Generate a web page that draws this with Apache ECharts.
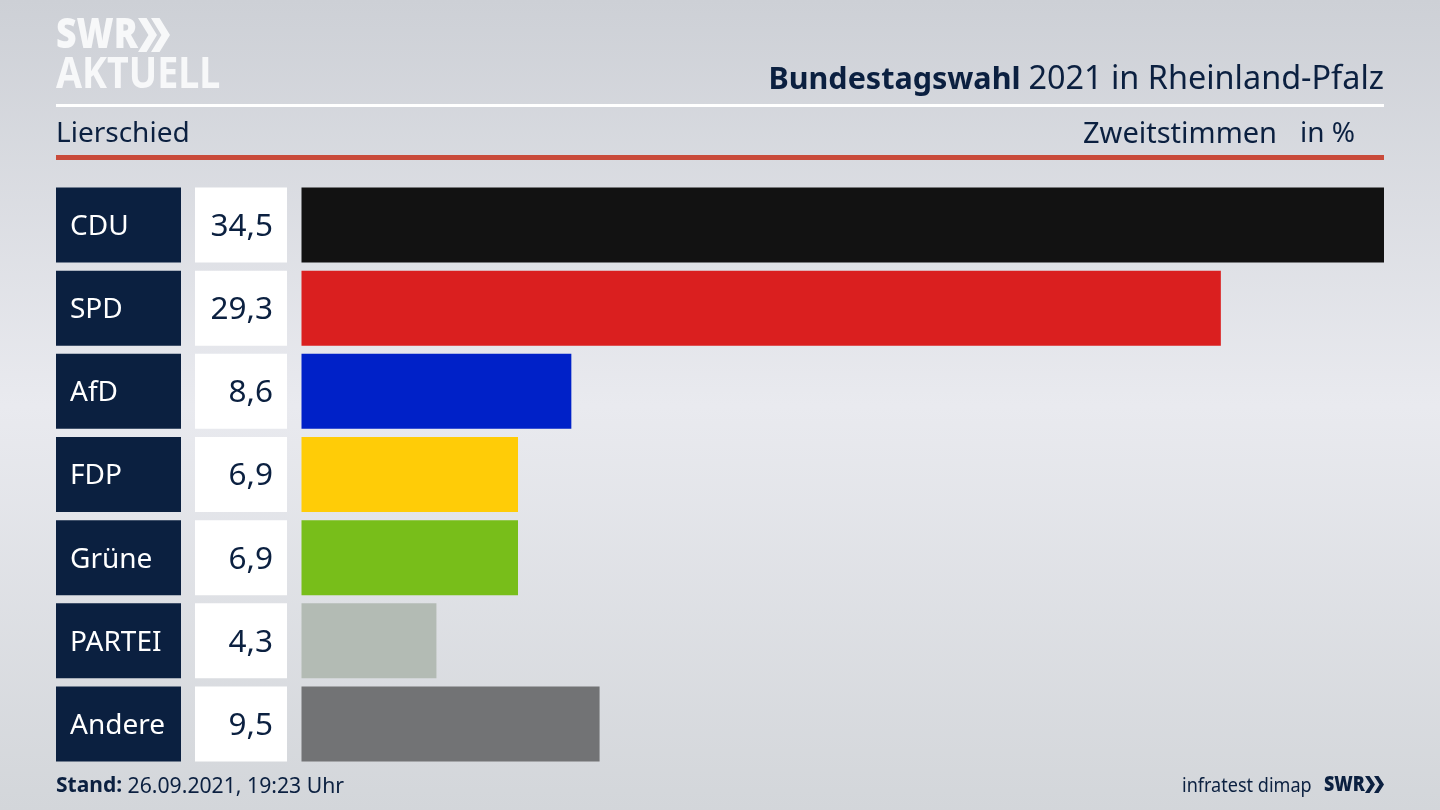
<!DOCTYPE html>
<html lang="de">
<head>
<meta charset="utf-8">
<title>Bundestagswahl 2021 in Rheinland-Pfalz</title>
<style>
  html, body { margin: 0; padding: 0; background: #dcdee3; }
  #chart { width: 1440px; height: 810px; }
</style>
<script src="https://cdn.jsdelivr.net/npm/echarts@6/dist/echarts.min.js"></script>
</head>
<body>
<div id="chart"></div>
<script>
const parties = ['CDU', 'SPD', 'AfD', 'FDP', 'Grüne', 'PARTEI', 'Andere'];
const shares = [34.5, 29.3, 8.6, 6.9, 6.9, 4.3, 9.5];
const partyColors = ['#121212', '#da1f1f', '#0021c8', '#ffcc07', '#78be1a', '#b3bbb4', '#727375'];

const navy = '#0b2040';
const logoWhite = '#f7f8f9';
const font = '"Noto Sans", sans-serif';
const fmt = v => v.toFixed(1).replace('.', ',');

const chevron = (x, y, w, h, fill) => ({
  type: 'polygon',
  shape: { points: [[x, y], [x + w * 0.45, y], [x + w, y + h / 2], [x + w * 0.45, y + h], [x, y + h], [x + w * 0.55, y + h / 2]] },
  style: { fill }
});

const chart = echarts.init(document.getElementById('chart'), null, { renderer: 'canvas' });

chart.setOption({
  animation: false,
  backgroundColor: {
    type: 'linear', x: 0, y: 0, x2: 0, y2: 1,
    colorStops: [
      { offset: 0, color: '#cdd0d6' },
      { offset: 0.5, color: '#e9eaef' },
      { offset: 1, color: '#d3d6da' }
    ]
  },
  grid: { left: 301.5, width: 1082.5, top: 183.5, height: 582 },
  xAxis: { type: 'value', min: 0, max: 34.5, show: false },
  yAxis: {
    type: 'category',
    inverse: true,
    data: parties,
    axisLine: { show: false },
    axisTick: { show: false },
    splitLine: { show: false },
    axisLabel: {
      margin: 14.5,
      fontFamily: font,
      formatter: (name, i) => `{party|${name}}{gap|}{share|${fmt(shares[i])}}`,
      rich: {
        party: {
          width: 111, height: 71, padding: [4, 0, 0, 14], align: 'left',
          backgroundColor: navy, color: '#ffffff', fontSize: 28, fontFamily: font
        },
        gap: { width: 14, height: 75 },
        share: {
          width: 78, height: 71, padding: [4, 14, 0, 0], align: 'right',
          backgroundColor: '#ffffff', color: navy, fontSize: 31.5, fontFamily: font
        }
      }
    }
  },
  series: [{
    type: 'bar',
    data: shares.map((v, i) => ({ value: v, itemStyle: { color: partyColors[i] } })),
    barWidth: 75,
    silent: true
  }],
  graphic: [
    { type: 'text', x: 56, y: 15, scaleX: 0.85, style: { text: 'SWR', fontFamily: font, fontWeight: 900, fontSize: 42, fill: logoWhite } },
    chevron(138, 18, 19, 34, logoWhite),
    chevron(151, 18, 19, 34, logoWhite),
    { type: 'text', x: 56, y: 54, scaleX: 0.875, style: { text: 'AKTUELL', fontFamily: font, fontWeight: 700, fontSize: 43, fill: logoWhite } },

    { type: 'text', right: 56, top: 64, style: {
      text: '{b|Bundestagswahl }{r|2021 in Rheinland-Pfalz}',
      rich: {
        b: { fontFamily: font, fontWeight: 700, fontSize: 30.5, fill: navy },
        r: { fontFamily: font, fontSize: 32.4, fill: navy }
      }
    } },
    { type: 'rect', shape: { x: 56, y: 104, width: 1328, height: 3 }, style: { fill: '#ffffff' } },

    { type: 'text', left: 56, top: 120, style: { text: 'Lierschied', fontFamily: font, fontSize: 28, fill: navy } },
    { type: 'text', left: 1083, top: 120, style: { text: 'Zweitstimmen', fontFamily: font, fontSize: 29, fill: navy } },
    { type: 'text', left: 1300, top: 120, style: { text: 'in %', fontFamily: font, fontSize: 28, fill: navy } },
    { type: 'rect', shape: { x: 56, y: 155, width: 1328, height: 5 }, style: { fill: '#c94a3a' } },

    { type: 'text', left: 56, top: 776, style: {
      text: '{b|Stand: }{r|26.09.2021, 19:23 Uhr}',
      rich: {
        b: { fontFamily: font, fontWeight: 700, fontSize: 21, fill: navy },
        r: { fontFamily: font, fontSize: 21.2, fill: navy }
      }
    } },
    { type: 'text', left: 1182, top: 777, scaleX: 0.95, style: { text: 'infratest dimap', fontFamily: font, fontSize: 19, fill: navy } },
    { type: 'text', x: 1324, y: 775, scaleX: 0.85, style: { text: 'SWR', fontFamily: font, fontWeight: 900, fontSize: 21, fill: navy } },
    chevron(1365, 776, 10, 17, navy),
    chevron(1374, 776, 10, 17, navy)
  ]
});
</script>
</body>
</html>
